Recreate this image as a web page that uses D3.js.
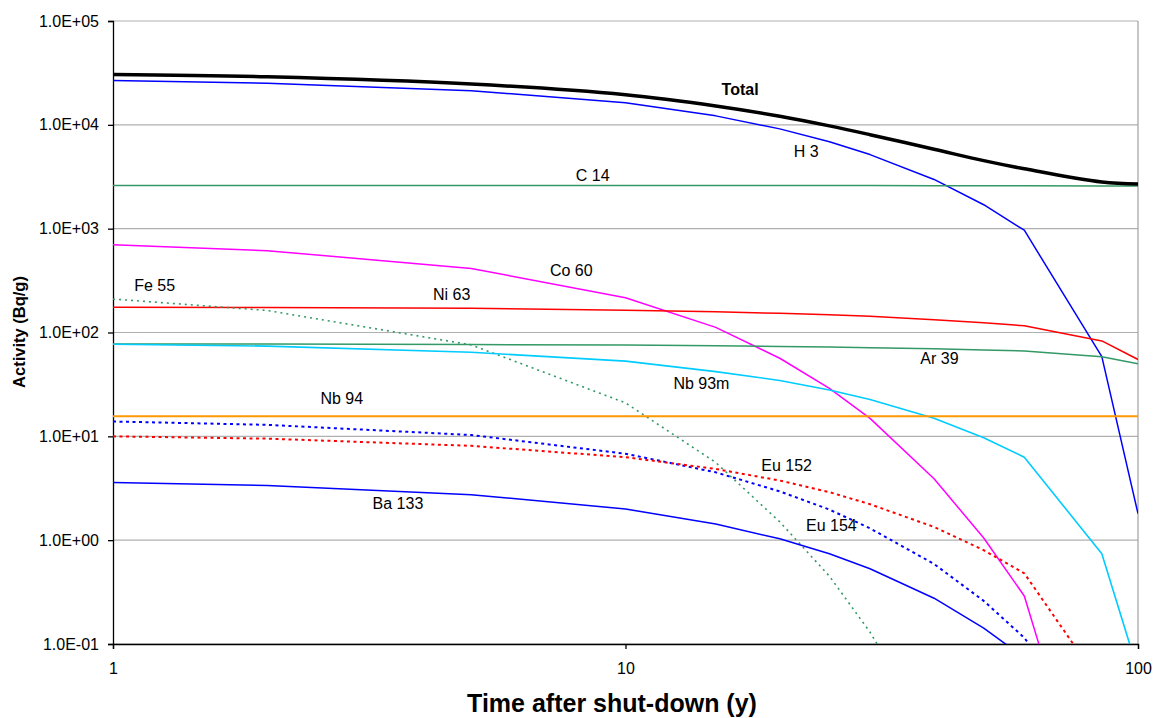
<!DOCTYPE html>
<html>
<head>
<meta charset="utf-8">
<script src="https://cdn.jsdelivr.net/npm/d3@7"></script>
<style>
    body { margin: 0; background: #fff; }
    svg { display: block; font-family: Arial, "Liberation Sans", sans-serif; }
</style>
</head>
<body>
<svg id="chart" width="1154" height="718"></svg>
<script>
// time after shut-down (y)
const years = [1, 2, 5, 10, 15, 20, 25, 30, 40, 50, 60, 85, 100];

// activity (Bq/g), one list per nuclide
const total  = [30600, 29000, 24700, 19500, 15200, 12100, 9770, 8040, 5820, 4520, 3770, 2810, 2690];
const h3     = [26700, 25200, 21300, 16300, 12200, 9140, 6870, 5170, 2980, 1700, 966, 58.5, 1.8];
const c14    = [2600, 2600, 2600, 2600, 2600, 2600, 2600, 2600, 2590, 2590, 2590, 2580, 2570];
const co60   = [700, 614, 414, 216, 112, 56.5, 29, 14.9, 3.9, 1.05, 0.29, 0.001, 0.0001];
const ni63   = [175, 174, 171, 164, 158, 153, 148, 143, 133, 124, 116, 83, 55];
const ar39   = [77.5, 77.3, 76.6, 75.6, 74.6, 73.3, 72.5, 71.5, 69.7, 68.0, 66.4, 58.5, 50];
const fe55   = [210, 163, 76, 21, 5.6, 1.5, 0.45, 0.13, 0.012, null, null, null, null];
const nb93m  = [77, 74, 64.6, 53, 42, 34.5, 27.9, 22.6, 14.9, 9.7, 6.3, 0.74, 0.055];
const nb94   = [15.6, 15.6, 15.6, 15.6, 15.6, 15.6, 15.6, 15.6, 15.6, 15.6, 15.6, 15.6, 15.6];
const eu154  = [13.9, 12.9, 10.3, 6.8, 4.5, 2.95, 1.97, 1.3, 0.59, 0.26, 0.115, 0.01, 0.001];
const eu152  = [10, 9.5, 8.1, 6.3, 4.85, 3.75, 2.9, 2.22, 1.34, 0.8, 0.48, 0.04, 0.005];
const ba133  = [3.6, 3.36, 2.74, 2.0, 1.43, 1.03, 0.74, 0.53, 0.276, 0.142, 0.074, 0.01, 0.002];

const yTicks = [0.1, 1, 10, 100, 1000, 10000, 100000];
const xTicks = [1, 10, 100];

// [name, values, label time, label activity]
const nuclides = [
    ["H 3", h3, 21.3, 4920],
    ["C 14", c14, 8.0, 2890],
    ["Co 60", co60, 7.12, 350],
    ["Ni 63", ni63, 4.21, 205],
    ["Ar 39", ar39, 37.6, 49.8],
    ["Fe 55", fe55, 1.1, 252],
    ["Nb 93m", nb93m, 12.4, 28.6],
    ["Nb 94", nb94, 2.54, 20.4],
    ["Eu 154", eu154, 22.5, 1.23],
    ["Eu 152", eu152, 18.4, 4.68],
    ["Ba 133", ba133, 3.21, 2.0],
    ["Total", total, 15.4, 19300]
];

const styles = {
    "Total":  { color: "#000000", width: 3.5, smooth: true, bold: true },
    "H 3":    { color: "#0000ff", width: 1.5 },
    "C 14":   { color: "#339966", width: 1.5 },
    "Co 60":  { color: "#ff00ff", width: 1.5 },
    "Ni 63":  { color: "#ff0000", width: 1.5 },
    "Ar 39":  { color: "#339966", width: 1.5 },
    "Fe 55":  { color: "#339966", width: 1.6, dash: "2,4" },
    "Nb 93m": { color: "#00ccff", width: 1.6 },
    "Nb 94":  { color: "#ff9900", width: 2 },
    "Eu 154": { color: "#0000ff", width: 2, dash: "3,3.5" },
    "Eu 152": { color: "#ff0000", width: 2, dash: "3,3.5" },
    "Ba 133": { color: "#0000ff", width: 1.5 }
};

const svg = d3.select("#chart");
const margin = { top: 21, right: 16, bottom: 74, left: 113 };
const width = +svg.attr("width") - margin.left - margin.right;
const height = +svg.attr("height") - margin.top - margin.bottom;

const x = d3.scaleLog().domain([1, 100]).range([0, width]);
const y = d3.scaleLog().domain([0.1, 100000]).range([height, 0]);

const g = svg.append("g")
    .attr("transform", `translate(${margin.left},${margin.top})`);

svg.append("defs").append("clipPath")
    .attr("id", "plot-clip")
    .append("rect")
    .attr("width", width)
    .attr("height", height);

// gridlines
g.append("g")
    .selectAll("line")
    .data(yTicks)
    .join("line")
    .attr("x1", 0)
    .attr("x2", width)
    .attr("y1", d => y(d))
    .attr("y2", d => y(d))
    .attr("stroke", "#b0b0b0")
    .attr("stroke-width", 1.2);

// right border of the plot area
g.append("line")
    .attr("x1", width).attr("x2", width)
    .attr("y1", 0).attr("y2", height)
    .attr("stroke", "#a0a0a0")
    .attr("stroke-width", 1.2);

const expFormat = v => {
    const e = Math.round(Math.log10(v));
    return "1.0E" + (e < 0 ? "-" : "+") + String(Math.abs(e)).padStart(2, "0");
};

g.append("g")
    .call(d3.axisLeft(y).tickValues(yTicks).tickFormat(expFormat).tickSize(5).tickPadding(9))
    .call(a => a.select(".domain").attr("stroke", "#000").attr("stroke-width", 1.3))
    .call(a => a.selectAll(".tick line").attr("stroke", "#000").attr("stroke-width", 1.3))
    .call(a => a.selectAll(".tick text")
        .attr("font-size", "16px")
        .attr("font-family", "Arial, 'Liberation Sans', sans-serif")
        .attr("fill", "#000"));

g.append("g")
    .attr("transform", `translate(0,${height})`)
    .call(d3.axisBottom(x).tickValues(xTicks).tickFormat(d3.format("d")).tickSize(5).tickPadding(14))
    .call(a => a.select(".domain").attr("stroke", "#000").attr("stroke-width", 1.3))
    .call(a => a.selectAll(".tick line").attr("stroke", "#000").attr("stroke-width", 1.3))
    .call(a => a.selectAll(".tick text")
        .attr("font-size", "16px")
        .attr("font-family", "Arial, 'Liberation Sans', sans-serif")
        .attr("fill", "#000"));

// lines
const plot = g.append("g").attr("clip-path", "url(#plot-clip)");

nuclides.forEach(([name, values]) => {
    const st = styles[name];
    const pts = years.map((t, i) => [t, values[i]]);
    const line = d3.line()
        .defined(d => d[1] != null)
        .x(d => x(d[0]))
        .y(d => y(d[1]))
        .curve(st.smooth ? d3.curveCatmullRom.alpha(0.5) : d3.curveLinear);

    plot.append("path")
        .datum(pts)
        .attr("fill", "none")
        .attr("stroke", st.color)
        .attr("stroke-width", st.width)
        .attr("stroke-dasharray", st.dash || null)
        .attr("stroke-linejoin", "round")
        .attr("d", line);
});

// series labels
g.append("g")
    .selectAll("text")
    .data(nuclides)
    .join("text")
    .attr("x", d => x(d[2]))
    .attr("y", d => y(d[3]))
    .attr("font-size", "16px")
    .attr("font-weight", d => styles[d[0]].bold ? "bold" : "normal")
    .attr("fill", "#000")
    .text(d => d[0]);

// axis titles
svg.append("text")
    .attr("x", 612)
    .attr("y", 712)
    .attr("text-anchor", "middle")
    .attr("font-size", "25px")
    .attr("font-weight", "bold")
    .text("Time after shut-down (y)");

svg.append("text")
    .attr("transform", "translate(25,332) rotate(-90)")
    .attr("text-anchor", "middle")
    .attr("font-size", "16.5px")
    .attr("font-weight", "bold")
    .text("Activity (Bq/g)");
</script>
</body>
</html>
